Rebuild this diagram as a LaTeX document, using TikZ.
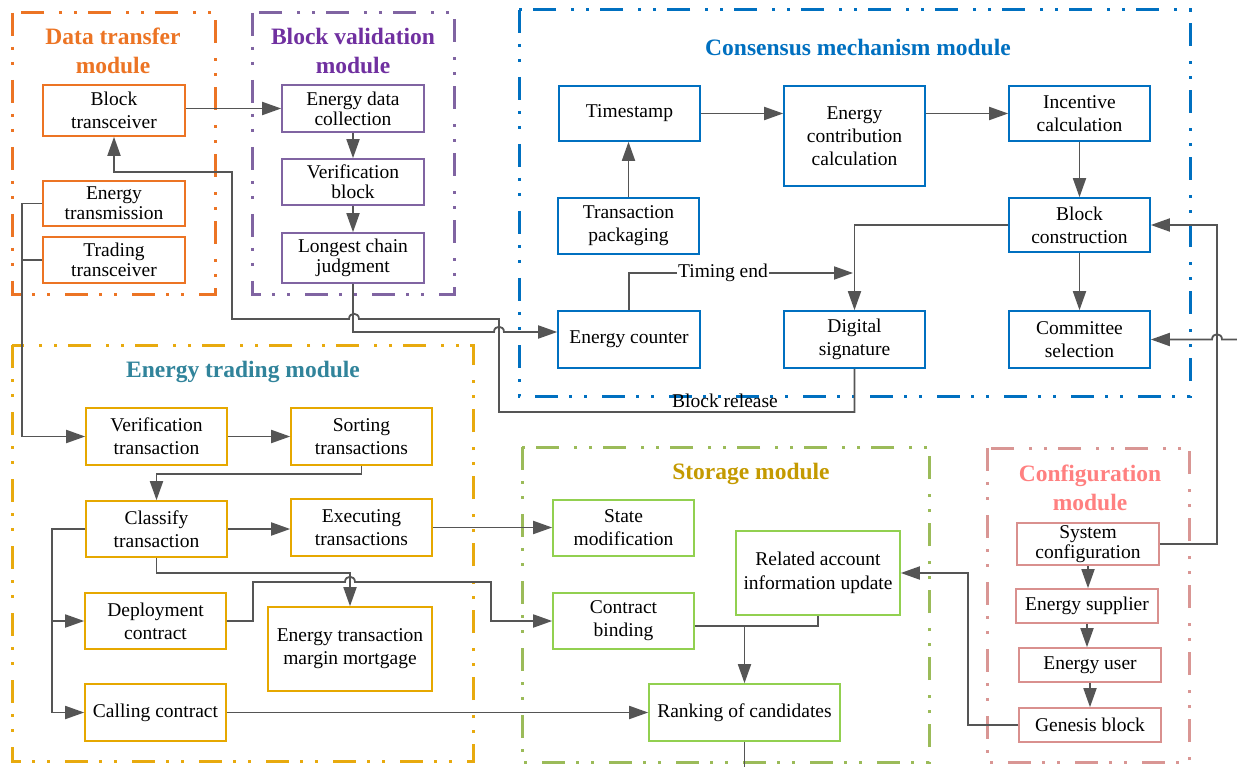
\documentclass[tikz,border=0pt]{standalone}
\usepackage{fontspec}
\setmainfont{Liberation Serif}
\usetikzlibrary{arrows.meta}

\definecolor{lineC}{HTML}{555555}
\definecolor{orangeC}{HTML}{EC7424}
\definecolor{purpleF}{HTML}{8064A2}
\definecolor{purpleT}{HTML}{7030A0}
\definecolor{blueC}{HTML}{0070C0}
\definecolor{goldF}{HTML}{E8AA0E}
\definecolor{goldN}{HTML}{E6A800}
\definecolor{tealT}{HTML}{31849B}
\definecolor{greenF}{HTML}{9BBB59}
\definecolor{greenN}{HTML}{92D050}
\definecolor{storeT}{HTML}{C49A00}
\definecolor{pinkF}{HTML}{D99694}
\definecolor{pinkN}{HTML}{D9908E}
\definecolor{pinkT}{HTML}{FF8080}

\begin{document}
\begin{tikzpicture}[x=1pt,y=-1pt,
  nd/.style={draw, line width=1.6pt, rectangle, align=center, inner sep=0pt,
             font=\fontsize{19.5}{23}\selectfont},
  tight/.style={font=\fontsize{19.5}{20}\selectfont},
  sz/.style 2 args={minimum width=#1, minimum height=#2},
  frame/.style={line width=3pt, dash pattern=on 23pt off 11pt on 3pt off 12pt on 3pt off 15pt},
  ttl/.style={font=\fontsize{23.5}{28.5}\selectfont\bfseries, align=center},
  cn/.style={draw=lineC, line width=1.8pt},
  arr/.style={cn, -{Triangle[length=19pt,width=13pt]}},
  lbl/.style={font=\fontsize{19.5}{23}\selectfont, inner sep=1pt}
]
\useasboundingbox (0,0) rectangle (1237,767);
\fill[white] (0,0) rectangle (1237,767);

% ---------- module frames ----------
\draw[frame, orangeC] (12,13) rectangle (215,295);
\draw[frame, purpleF] (252,13) rectangle (454,295);
\draw[frame, blueC]   (519,10) rectangle (1190,396);
\draw[frame, goldF]   (12,345) rectangle (473,761);
\draw[frame, greenF]  (522,447) rectangle (929,762);
\draw[frame, pinkF]   (987,448) rectangle (1189,762);

% ---------- module titles ----------
\node[ttl, text=orangeC] (tdt) at (113,51) {Data transfer\\module};
\node[ttl, text=purpleT] (tbv) at (353,51) {Block validation\\module};
\node[ttl, text=blueC]   (tcm) at (858,47) {Consensus mechanism module};
\node[ttl, text=tealT]   (tet) at (243,372) {Energy trading module};
\node[ttl, text=storeT]  (tst) at (751,474) {Storage module};
\node[ttl, text=pinkT]   (tcf) at (1090,488) {Configuration\\module};

% ---------- data transfer module ----------
\node[nd, draw=orangeC, sz={142}{51}] (btx) at (114,110.5) {Block\\transceiver};
\node[nd, tight, draw=orangeC, sz={142}{45}] (etx) at (114,203.5) {Energy\\transmission};
\node[nd, tight, draw=orangeC, sz={142}{46}] (ttx) at (114,260) {Trading\\transceiver};

% ---------- block validation module ----------
\node[nd, tight, draw=purpleF, sz={142}{47}] (edc) at (353,108.5) {Energy data\\collection};
\node[nd, tight, draw=purpleF, sz={142}{46}] (vb)  at (353,182) {Verification\\block};
\node[nd, tight, draw=purpleF, sz={142}{50}] (lcj) at (353,258) {Longest chain\\judgment};

% ---------- consensus mechanism module ----------
\node[nd, draw=blueC, sz={141}{55}]  (ts)  at (629.5,113.5) {Timestamp};
\node[nd, draw=blueC, sz={141}{100}] (ecc) at (854.5,136) {Energy\\contribution\\calculation};
\node[nd, draw=blueC, sz={141}{55}]  (ic)  at (1079.5,113.5) {Incentive\\calculation};
\node[nd, draw=blueC, sz={141}{56}]  (tp)  at (628.5,226) {Transaction\\packaging};
\node[nd, draw=blueC, sz={141}{54}]  (bc)  at (1079.5,225) {Block\\construction};
\node[nd, draw=blueC, sz={142}{57}]  (ec)  at (629,339.5) {Energy counter};
\node[nd, draw=blueC, sz={141}{57}]  (ds)  at (854.5,339.5) {Digital\\signature};
\node[nd, draw=blueC, sz={141}{57}]  (cs)  at (1079.5,339.5) {Committee\\selection};

% ---------- energy trading module ----------
\node[nd, draw=goldN, sz={141}{57}] (vt)  at (156.5,436.5) {Verification\\transaction};
\node[nd, draw=goldN, sz={141}{57}] (st)  at (361.5,436.5) {Sorting\\transactions};
\node[nd, draw=goldN, sz={141}{56}] (ct)  at (156.5,529) {Classify\\transaction};
\node[nd, draw=goldN, sz={141}{57}] (et)  at (361.5,527.5) {Executing\\transactions};
\node[nd, draw=goldN, sz={141}{56}] (dc)  at (155.5,621) {Deployment\\contract};
\node[nd, draw=goldN, sz={164}{84}] (etm) at (350,649) {Energy transaction\\margin mortgage};
\node[nd, draw=goldN, sz={141}{57}] (cc)  at (155.5,712.5) {Calling contract};

% ---------- storage module ----------
\node[nd, draw=greenN, sz={141}{56}] (sm)  at (623.5,528) {State\\modification};
\node[nd, draw=greenN, sz={141}{56}] (cb)  at (623.5,621) {Contract\\binding};
\node[nd, draw=greenN, sz={164}{84}, font=\fontsize{19.5}{24}\selectfont] (rai) at (818,573) {Related account\\information update};
\node[nd, draw=greenN, sz={191}{57}] (rc)  at (744.5,712.5) {Ranking of candidates};

% ---------- configuration module ----------
\node[nd, tight, draw=pinkN, sz={142}{42}] (sc) at (1088,544) {System\\configuration};
\node[nd, draw=pinkN, sz={142}{34}] (es) at (1087,606) {Energy supplier};
\node[nd, draw=pinkN, sz={142}{34}] (eu) at (1090,665) {Energy user};
\node[nd, draw=pinkN, sz={142}{34}] (gb) at (1090,725) {Genesis block};

% ---------- connectors: data transfer / block validation ----------
\draw[arr] (btx.east |- edc.west) -- (edc.west);
\draw[arr] (edc.south) -- (vb.north);
\draw[arr] (vb.south) -- (lcj.north);

% block release: digital signature back to the block transceiver
\draw[arr] (ds.south) -- (854.5,412) -- (499,412) -- (499,319)
  -- (359,319) .. controls (359,312) and (349,312) .. (349,319)
  -- (232,319) -- (232,172) -- (114,172) -- (btx.south);
\node[lbl] (brl) at (725,401) {Block release};

% longest chain judgment to the energy counter
\draw[arr] (lcj.south) -- (353,332)
  -- (494,332) .. controls (494,325) and (504,325) .. (504,332)
  -- (ec.west |- 0,332);

% energy transmission and trading transceiver feed the trading module
\draw[cn] (etx.west) -- (22,203.5);
\draw[cn] (ttx.west) -- (22,260);
\draw[arr] (22,203.5) -- (22,436.5) -- (vt.west);

% ---------- connectors: energy trading ----------
\draw[arr] (vt.east) -- (st.west);
\draw[arr] (st.south) -- (361.5,474) -- (156.5,474) -- (ct.north);
\draw[arr] (ct.east) -- (ct.east -| et.west);
\draw[cn] (ct.west) -- (52,529) -- (52,712.5);
\draw[arr] (52,621) -- (dc.west);
\draw[arr] (52,712.5) -- (cc.west);
\draw[arr] (ct.south) -- (156.5,573) -- (350,573) -- (etm.north);
\draw[arr] (dc.east) -- (253,621) -- (253,582)
  -- (345,582) .. controls (345,575) and (355,575) .. (355,582)
  -- (491,582) -- (491,621) -- (cb.west);
\draw[arr] (et.east) -- (et.east -| sm.west);
\draw[arr] (cc.east) -- (rc.west);

% ---------- connectors: storage ----------
\coordinate (mrg) at (744.5,626);
\draw[cn] (cb.east |- mrg) -- (mrg);
\draw[cn] (rai.south) -- (rai.south |- mrg) -- (mrg);
\draw[arr] (mrg) -- (rc.north);
\coordinate (rcout) at (744.5,767);
\draw[cn] (rc.south) -- (rcout);

% ---------- connectors: configuration ----------
\draw[arr] (sc.south) -- (sc.south |- es.north);
\draw[arr] (es.south) -- (es.south |- eu.north);
\draw[arr] (eu.south) -- (gb.north);
\draw[arr] (gb.west) -- (968,725) -- (968,573) -- (rai.east);
\draw[arr] (sc.east) -- (1217,544) -- (1217,225) -- (bc.east);
\coordinate (rin) at (1237,339.5);
\draw[arr] (rin) -- (1222,339.5) .. controls (1222,332.5) and (1212,332.5) .. (1212,339.5) -- (cs.east);

% ---------- connectors: consensus mechanism ----------
\draw[arr] (tp.north) -- (tp.north |- ts.south);
\draw[arr] (ts.east) -- (ts.east -| ecc.west);
\draw[arr] (ecc.east |- ic.west) -- (ic.west);
\draw[arr] (ic.south) -- (bc.north);
\draw[arr] (bc.south) -- (cs.north);
\draw[arr] (bc.west) -| (ds.north);
\node[lbl] (te) at (723,273) {Timing end};
\draw[cn] (ec.north) -- (629,273) -- (te.west);
\draw[arr] (te.east) -- (853,273);
\end{tikzpicture}
\end{document}
